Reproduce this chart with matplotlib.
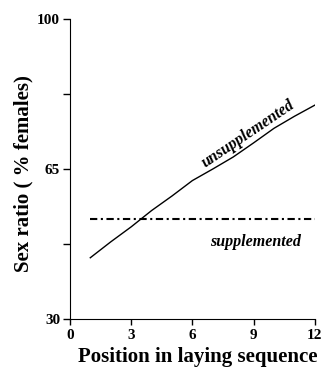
import matplotlib
matplotlib.use("Agg")
import matplotlib.pyplot as plt

plt.rcParams['font.family'] = ['Liberation Serif', 'DejaVu Serif']

position = [1, 2, 3, 4, 5, 6, 7, 8, 9, 10, 11, 12]
unsupplemented = [44.3, 48.0, 51.5, 55.3, 58.7, 62.3, 65.0, 67.8, 71.1, 74.5, 77.3, 79.9]
supplemented = [53.3] * 12

xticks = [0, 3, 6, 9, 12]
yticks_major = [30, 65, 100]
yticks_minor = [47.5, 82.5]

fig = plt.figure(figsize=(3.22, 3.71), dpi=100)
ax = fig.add_axes([0.217, 0.14, 0.761, 0.809])

ax.plot(position, unsupplemented, color='black', lw=1.0)
ax.plot(position, supplemented, color='black', lw=1.5, dashes=(3.5, 1.7, 1, 1.7))

ax.text(8.85, 72.3, "unsupplemented", rotation=34, rotation_mode='anchor',
        ha='center', va='baseline',
        fontsize=11.5, fontstyle='italic', fontweight='bold')
ax.text(9.08, 48.0, "supplemented", ha='center', va='center',
        fontsize=11.5, fontstyle='italic', fontweight='bold')

ax.set_xlim(0, 12)
ax.set_ylim(30, 100)
ax.set_xticks(xticks)
ax.set_yticks(yticks_major)
ax.set_yticks(yticks_minor, minor=True)
ax.tick_params(axis='y', which='both', direction='out', length=5, width=1,
               labelsize=11, pad=2)
ax.tick_params(axis='x', which='both', direction='out', length=4.5, width=1,
               labelsize=11, pad=3)
for lab in ax.get_xticklabels() + ax.get_yticklabels():
    lab.set_fontweight('bold')

ax.spines['top'].set_visible(False)
ax.spines['right'].set_visible(False)

ax.set_xlabel("Position in laying sequence", fontsize=15, fontweight='bold', labelpad=3)
ax.set_ylabel("Sex ratio ( % females)", fontsize=15, fontweight='bold', labelpad=3)
ax.xaxis.label.set_x(0.522)
ax.yaxis.label.set_y(0.485)

fig.savefig("out.png", dpi=100)
